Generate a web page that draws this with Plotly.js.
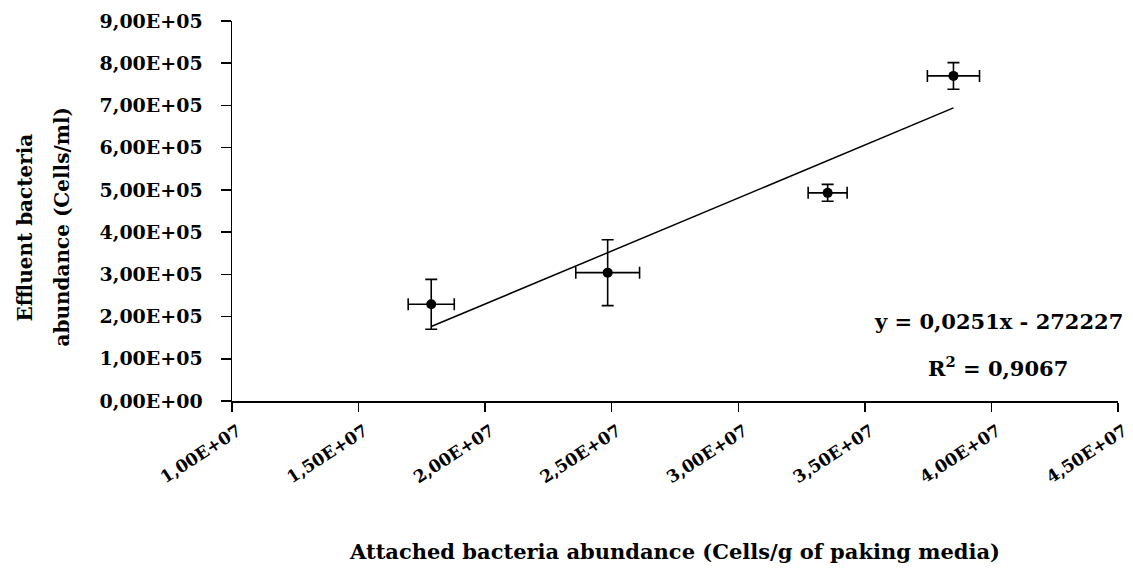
<!DOCTYPE html>
<html>
<head>
<meta charset="utf-8">
<script src="https://cdn.plot.ly/plotly-3.0.1.min.js"></script>
<style>html,body{margin:0;padding:0;background:#fff;}#chart{width:1133px;height:574px;}</style>
</head>
<body>
<div id="chart"></div>
<script>
// Data
const attachedX = [1.787e7, 2.484e7, 3.353e7, 3.850e7];
const effluentY = [2.29e5, 3.04e5, 4.93e5, 7.70e5];
const errX = [0.091e7, 0.126e7, 0.077e7, 0.103e7];
const errY = [0.59e5, 0.78e5, 0.20e5, 0.315e5];

// Linear trend as printed on the chart
const slope = 0.0251;
const intercept = -272227;
const equationText = "y = 0,0251x - 272227";
const r2Text = "R<sup>2</sup> = 0,9067";

const xTickVals = [1.0e7, 1.5e7, 2.0e7, 2.5e7, 3.0e7, 3.5e7, 4.0e7, 4.5e7];
const xTickText = ["1,00E+07", "1,50E+07", "2,00E+07", "2,50E+07", "3,00E+07", "3,50E+07", "4,00E+07", "4,50E+07"];
const yTickVals = [0, 1e5, 2e5, 3e5, 4e5, 5e5, 6e5, 7e5, 8e5, 9e5];
const yTickText = ["0,00E+00", "1,00E+05", "2,00E+05", "3,00E+05", "4,00E+05", "5,00E+05", "6,00E+05", "7,00E+05", "8,00E+05", "9,00E+05"];

const xTitle = "Attached bacteria abundance (Cells/g of paking media)";
const yTitleLine1 = "Effluent bacteria";
const yTitleLine2 = "abundance (Cells/ml)";

const trendX = [Math.min(...attachedX), Math.max(...attachedX)];
const trendY = trendX.map(v => slope * v + intercept);

const serif = {family: "DejaVu Serif, Liberation Serif, serif", color: "#000", weight: "bold"};
const f = s => Object.assign({}, serif, {size: s});

const traces = [
  {
    x: trendX, y: trendY, type: "scatter", mode: "lines",
    line: {color: "#000", width: 1.5}, hoverinfo: "skip", showlegend: false
  },
  {
    x: attachedX, y: effluentY, type: "scatter", mode: "markers",
    marker: {color: "#000", size: 10},
    error_y: {type: "data", array: errY, visible: true, color: "#000", thickness: 1.6, width: 6},
    error_x: {type: "data", array: errX, visible: true, color: "#000", thickness: 1.6, width: 6},
    showlegend: false
  }
];

const layout = {
  width: 1133, height: 574,
  margin: {l: 232, r: 15, t: 21, b: 173},
  paper_bgcolor: "#fff", plot_bgcolor: "#fff",
  showlegend: false,
  xaxis: {
    range: [1e7, 4.5e7], tickvals: xTickVals, ticktext: xTickText,
    tickangle: -33, tickfont: f(17),
    ticklabelshift: 6, ticklabelstandoff: 3, ticklabeloverflow: "allow",
    showline: true, linecolor: "#000", linewidth: 1.5,
    ticks: "outside", ticklen: 9, tickwidth: 1.5, tickcolor: "#000",
    showgrid: false, zeroline: false,
    title: {text: xTitle, font: f(21), standoff: 58}
  },
  yaxis: {
    range: [0, 9e5], tickvals: yTickVals, ticktext: yTickText,
    tickfont: f(19),
    showline: true, linecolor: "#000", linewidth: 1.5,
    ticks: "outside", ticklen: 10, tickwidth: 1.5, tickcolor: "#000",
    ticklabelstandoff: 14,
    showgrid: false, zeroline: false
  },
  annotations: [
    {text: yTitleLine1, xref: "paper", yref: "paper", x: -0.2333, y: 0.4575, xanchor: "center", yanchor: "middle", textangle: -90, showarrow: false, font: f(20)},
    {text: yTitleLine2, xref: "paper", yref: "paper", x: -0.1915, y: 0.4575, xanchor: "center", yanchor: "middle", textangle: -90, showarrow: false, font: f(20)},
    {text: equationText, xref: "paper", yref: "paper", x: 0.865, y: 0.21, xanchor: "center", yanchor: "middle", showarrow: false, font: f(21)},
    {text: r2Text, xref: "paper", yref: "paper", x: 0.865, y: 0.089, xanchor: "center", yanchor: "middle", showarrow: false, font: f(21)}
  ]
};

Plotly.newPlot("chart", traces, layout, {displayModeBar: false, staticPlot: true});
</script>
</body>
</html>
